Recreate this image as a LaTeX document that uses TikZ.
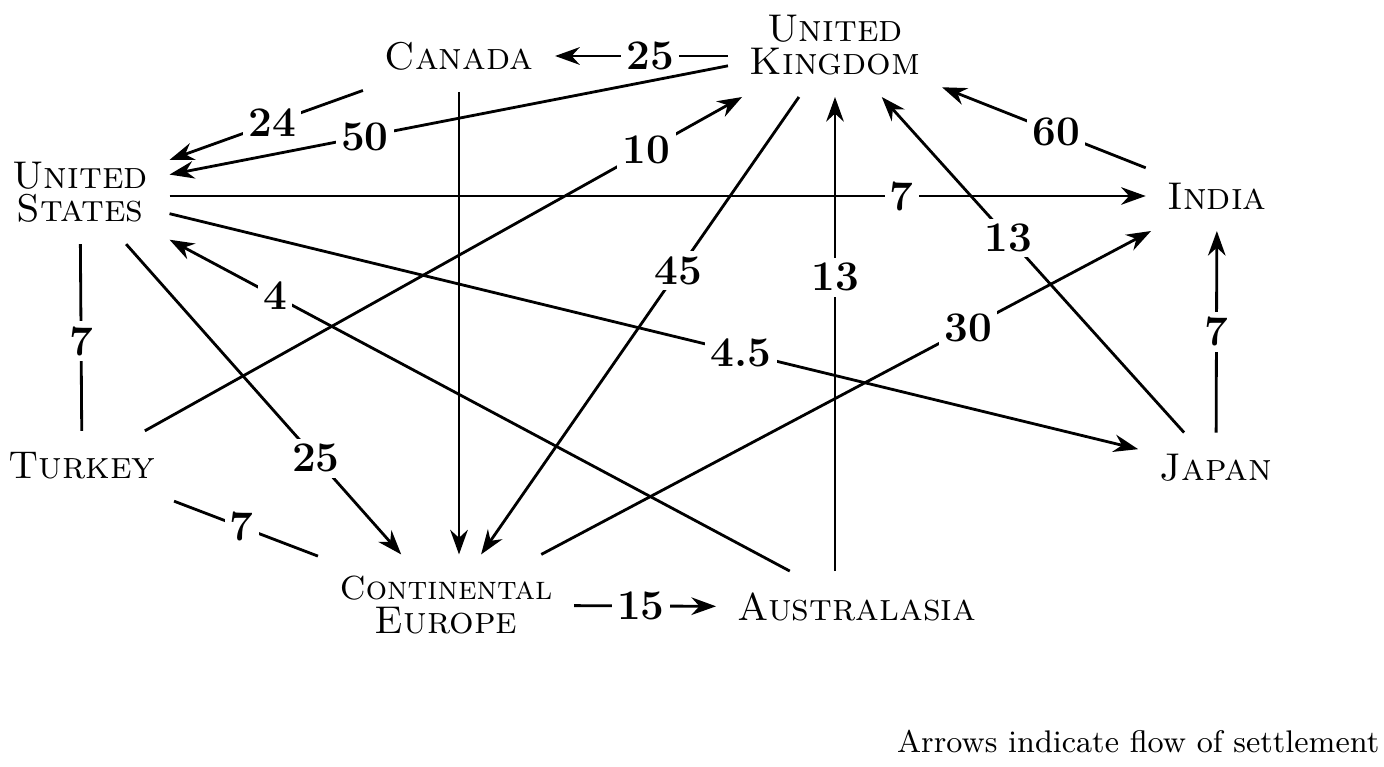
\documentclass[tikz,border=0pt]{standalone}
\usepackage{tikz}
\usetikzlibrary{arrows.meta, positioning, calc}

\begin{document}
\begin{tikzpicture}[x=0.01cm, y=-0.01cm,
    country/.style={font=\fontsize{11}{9.5}\selectfont\scshape, align=center, inner sep=6pt},
    flow/.style={line width=0.8pt, -{Stealth[length=7pt, width=5pt]}},
    link/.style={line width=0.8pt},
    amount/.style={font=\fontsize{12}{12}\selectfont\bfseries, fill=white, inner sep=1.5pt}]
    \useasboundingbox (0,0) rectangle (1384,767);

    \node[country] (uk) at (835,45) {United\\Kingdom};
    \node[country] (canada) at (459,56) {Canada};
    \node[country] (us) at (80,192) {United\\States};
    \node[country] (india) at (1217,196) {India};
    \node[country] (turkey) at (82,466) {Turkey};
    \node[country] (japan) at (1216,468) {Japan};
    \node[country] (europe) at (446,605) {{\fontsize{9.5}{9.5}\selectfont Continental}\\Europe};
    \node[country] (austral) at (857,607) {Australasia};
    \node[anchor=base east, inner sep=0pt, font=\fontsize{8.9}{12}\selectfont] (note) at (1380,752) {Arrows indicate flow of settlement};

    \draw[flow] (uk.west |- canada) -- node[amount, pos=.45] {25} (canada);
    \draw[flow] (canada) -- node[amount, pos=.47] {24} (us);
    \draw[flow] (uk) -- node[amount, pos=.65] {50} (us);
    \draw[flow] (us.east |- india) -- node[amount, pos=.75] {7} (india);
    \draw[flow] (turkey) -- node[amount, pos=.84] {10} (uk);
    \draw[flow] (canada) -- (canada |- europe.north);
    \draw[flow] (uk) -- node[amount, pos=.38] {45} (europe);
    \draw[flow] (austral.north -| uk) -- node[amount, pos=.62] {13} (uk);
    \draw[flow] (japan) -- node[amount, pos=.58] {13} (uk);
    \draw[flow] (india) -- node[amount, pos=.44] {60} (uk);
    \draw[flow] (us) -- node[amount, pos=.59] {4.5} (japan);
    \draw[flow] (austral) -- node[amount, pos=.83] {4} (us);
    \draw[flow] (us) -- node[amount, pos=.69] {25} (europe);
    \draw[link] (us) -- node[amount, pos=.52] {7} (turkey);
    \draw[link] (turkey) -- node[amount, pos=.47] {7} (europe);
    \draw[flow] (europe) -- node[amount, pos=.47] {15} (austral);
    \draw[flow] (europe) -- node[amount, pos=.70] {30} (india);
    \draw[flow] (japan) -- node[amount, pos=.50] {7} (india);
\end{tikzpicture}
\end{document}
